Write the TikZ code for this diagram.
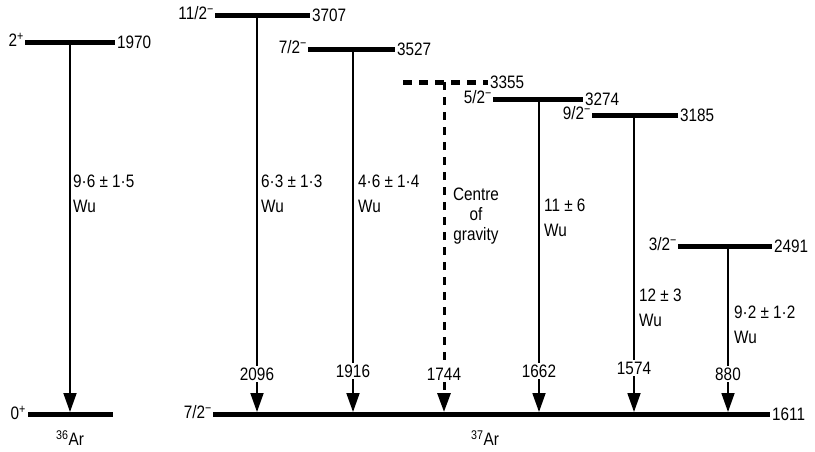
\documentclass[tikz,border=0pt]{standalone}
\usepackage{fontspec}
\setmainfont{Liberation Sans}[FakeStretch=0.85]
\usetikzlibrary{arrows.meta}
\newcommand{\jpi}[2]{#1\textsuperscript{#2}}

\begin{document}
\begin{tikzpicture}[x=1pt,y=-1pt,
  lvl/.style={line width=5pt},
  tr/.style={line width=1.8pt,-{Triangle[length=19pt,width=13pt]}},
  lab/.style={font=\fontsize{18}{25}\selectfont,inner sep=1pt},
  en/.style={lab,fill=white,inner sep=2pt}]
\useasboundingbox (0,0) rectangle (815,451);
% 36Ar
\draw[lvl] (25,42)--(115,42);
\draw[lvl] (28,414)--(113,414);
\node[lab,anchor=east] (j2p) at (25,40) {\jpi{2}{+}};
\node[lab,anchor=west] (e1970) at (116,42) {1970};
\node[lab,anchor=east] (j0p) at (27,413) {\jpi{0}{+}};
\node[lab] (ar36) at (70,438) {\textsuperscript{36}Ar};
\coordinate (a1) at (70,42); \coordinate (a0) at (70,412);
\draw[tr] (a1)--(a0);
\node[lab,anchor=west,align=left] (b36) at (72,194) {9·6 ± 1·5\\Wu};
% 37Ar ground state
\draw[lvl] (213,414)--(770,414);
\node[lab,anchor=east] (j72g) at (213,412) {\jpi{7/2}{−}};
\node[lab,anchor=west] (e1611) at (771,414) {1611};
\node[lab] (ar37) at (485,438) {\textsuperscript{37}Ar};
% 37Ar excited states
\draw[lvl] (215,15)--(310,15);
\node[lab,anchor=east] (j112) at (215,13) {\jpi{11/2}{−}};
\node[lab,anchor=west] (e3707) at (311,15) {3707};
\draw[lvl] (308,49)--(395,49);
\node[lab,anchor=east] (j72) at (308,47) {\jpi{7/2}{−}};
\node[lab,anchor=west] (e3527) at (396,49) {3527};
\draw[lvl,dash pattern=on 9pt off 7pt] (403,82)--(488,82);
\node[lab,anchor=west] (e3355) at (489,82) {3355};
\draw[lvl] (493,99)--(583,99);
\node[lab,anchor=east] (j52) at (493,97) {\jpi{5/2}{−}};
\node[lab,anchor=west] (e3274) at (584,99) {3274};
\draw[lvl] (592,115)--(678,115);
\node[lab,anchor=east] (j92) at (592,113) {\jpi{9/2}{−}};
\node[lab,anchor=west] (e3185) at (679,115) {3185};
\draw[lvl] (678,246)--(772,246);
\node[lab,anchor=east] (j32) at (678,244) {\jpi{3/2}{−}};
\node[lab,anchor=west] (e2491) at (773,246) {2491};
% transitions
\coordinate (t1) at (257,15);  \coordinate (g1) at (257,412);
\coordinate (t2) at (353,49);  \coordinate (g2) at (353,412);
\coordinate (t3) at (444,82);  \coordinate (g3) at (444,412);
\coordinate (t4) at (539,99);  \coordinate (g4) at (539,412);
\coordinate (t5) at (634,115); \coordinate (g5) at (634,412);
\coordinate (t6) at (728,246); \coordinate (g6) at (728,412);
\draw[tr] (t1)--(g1);
\draw[tr] (t2)--(g2);
\draw[tr,line width=3pt,dash pattern=on 8pt off 7pt] (t3)--(g3);
\draw[tr] (t4)--(g4);
\draw[tr] (t5)--(g5);
\draw[tr] (t6)--(g6);
\node[en] (e2096) at (257,374) {2096};
\node[en] (e1916) at (353,371) {1916};
\node[en] (e1744) at (444,374) {1744};
\node[en] (e1662) at (539,371) {1662};
\node[en] (e1574) at (634,368) {1574};
\node[en] (e880) at (728,374) {880};
\node[lab,anchor=west,align=left] (b1) at (260,194) {6·3 ± 1·3\\Wu};
\node[lab,anchor=west,align=left] (b2) at (357,194) {4·6 ± 1·4\\Wu};
\node[lab,align=center,font=\fontsize{18}{20}\selectfont] (cg) at (476,216) {Centre\\of\\gravity};
\node[lab,anchor=west,align=left] (b4) at (543,218) {11 ± 6\\Wu};
\node[lab,anchor=west,align=left] (b5) at (638,308) {12 ± 3\\Wu};
\node[lab,anchor=west,align=left] (b6) at (733,325) {9·2 ± 1·2\\Wu};
\end{tikzpicture}
\end{document}
